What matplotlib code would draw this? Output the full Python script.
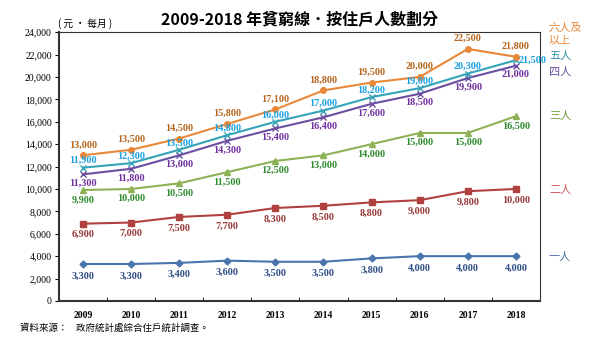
import numpy as np
import matplotlib.pyplot as plt

plt.rcParams['font.family'] = ['Noto Sans CJK TC', 'DejaVu Sans']

# ── data ─────────────────────────────────────
years = ["2009", "2010", "2011", "2012", "2013", "2014", "2015", "2016", "2017", "2018"]
one   = [3300, 3300, 3400, 3600, 3500, 3500, 3800, 4000, 4000, 4000]
two   = [6900, 7000, 7500, 7700, 8300, 8500, 8800, 9000, 9800, 10000]
three = [9900, 10000, 10500, 11500, 12500, 13000, 14000, 15000, 15000, 16500]
four  = [11300, 11800, 13000, 14300, 15400, 16400, 17600, 18500, 19900, 21000]
five  = [11900, 12300, 13500, 14800, 16000, 17000, 18200, 19000, 20300, 21500]
six   = [13000, 13500, 14500, 15800, 17100, 18800, 19500, 20000, 22500, 21800]
names = ["一人", "二人", "三人", "四人", "五人", "六人及\n以上"]

x = np.arange(len(years))

# (values, line colour, label colour, marker, label offset pt, legend y px)
series = [
    (one,   "#4A74AE", "#2F4F85", "D", -8.5, 257),
    (two,   "#B0413E", "#9A3A3A", "s", -8,   190),
    (three, "#8DB255", "#2E8B2E", "^", -7,   116),
    (four,  "#6B4FA0", "#7030A0", "x", -6.5, 72),
    (five,  "#35A3B8", "#1BA1E2", "x",  5,   56),
    (six,   "#E8883A", "#B5651D", "o",  7.5, 34),
]
legend_colors = ["#4A74AE", "#D05A5A", "#6E9A3A", "#6B4FA0", "#2E8FA5", "#E8883A"]

fig = plt.figure(figsize=(6, 3.42), dpi=100)
ax = fig.add_axes([0.098, 0.12, 0.802, 0.786])

serif = "Liberation Serif"
for (vals, lc, tc, mk, off, ly), nm, lgc in zip(series, names, legend_colors):
    ax.plot(x, vals, color=lc, lw=1.5, marker=mk, ms=4 if mk != "D" else 3.5,
            mew=1.0, zorder=3)
    for i, v in enumerate(vals):
        dx, dy, ha = 0, off, "center"
        if nm == "五人" and i == 9:
            dx, dy, ha = 2, 0, "left"
        ax.annotate(f"{v:,}", (x[i], v), xytext=(dx, dy), textcoords="offset points",
                    ha=ha, va="center", fontsize=7.3, fontweight="bold",
                    color=tc, family=serif, zorder=4)
    # right-hand series names, one text per line
    lines = nm.split("\n")
    for k, ln in enumerate(lines):
        py = ly + (k - (len(lines) - 1) / 2) * 13
        fig.text(549 / 600, 1 - py / 342, ln, color=lgc, fontsize=8,
                 ha="left", va="center")

ax.set_xlim(-0.5, 9.5)
ax.set_ylim(0, 24000)
ax.set_yticks(np.arange(0, 24001, 2000))
ax.set_yticklabels([f"{v:,}" for v in range(0, 24001, 2000)], family=serif, fontsize=7)
ax.set_xticks(x)
ax.set_xticklabels(years, family=serif, fontsize=7, fontweight="bold")
ax.tick_params(axis="x", length=0, pad=7)
ax.set_xticks(np.arange(0.5, 9.5, 1), minor=True)
ax.tick_params(axis="x", which="minor", direction="in", length=3)
ax.tick_params(axis="y", direction="out", length=3, pad=2)
for s in ax.spines.values():
    s.set_color("#333333")
    s.set_linewidth(0.8)
ax.spines["left"].set_linewidth(1.5)
ax.spines["bottom"].set_linewidth(1.5)

fig.text(0.5, 0.945, "2009-2018 年貧窮線．按住戶人數劃分", ha="center", va="center",
         fontsize=11.5, fontweight="bold")
fig.text(0.097, 0.93, "( 元 · 每月 )", ha="left", va="center", fontsize=7)
fig.text(0.033, 0.04, "資料來源：    政府統計處綜合住戶統計調查。", ha="left", va="center",
         fontsize=6.8)

plt.savefig("out.png", dpi=100)
